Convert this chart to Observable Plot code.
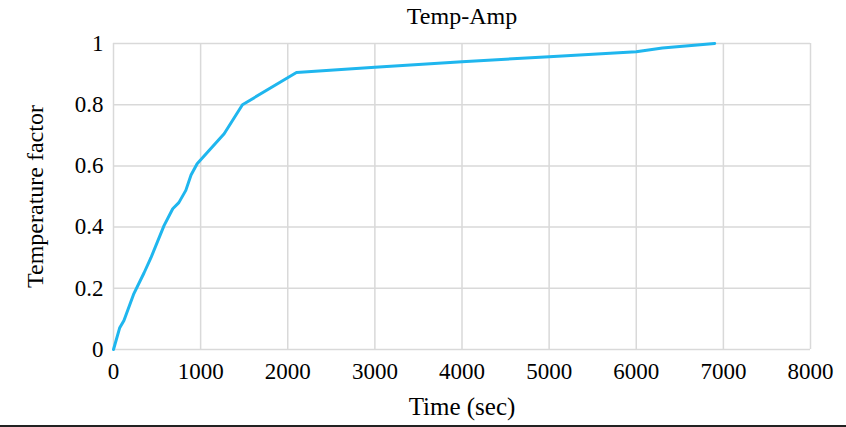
<!DOCTYPE html>
<html>
<head>
<meta charset="utf-8">
<script src="https://cdn.jsdelivr.net/npm/d3@7"></script>
<script src="https://cdn.jsdelivr.net/npm/@observablehq/plot@0.6"></script>
<style>
  html, body { margin: 0; padding: 0; background: #fff; }
  #chart { width: 846px; }
  #rule { width: 846px; height: 0; border-top: 2px solid #222; }
</style>
</head>
<body>
<div id="chart"></div>
<div id="rule"></div>
<script>
const chartTitle = "Temp-Amp";
const xLabel = "Time (sec)";
const yLabel = "Temperature factor";
const timeSec = [0, 70, 120, 230, 350, 430, 580, 680, 750, 830, 890, 960, 1270, 1480, 2100, 3000, 4000, 5000, 6000, 6300, 6900];
const tempFactor = [0, 0.07, 0.095, 0.18, 0.25, 0.30, 0.405, 0.46, 0.48, 0.52, 0.57, 0.607, 0.705, 0.80, 0.905, 0.922, 0.94, 0.957, 0.973, 0.985, 1.0];
const xTicks = [0, 1000, 2000, 3000, 4000, 5000, 6000, 7000, 8000];
const yTicks = [0, 0.2, 0.4, 0.6, 0.8, 1];

const data = timeSec.map((t, i) => ({t, v: tempFactor[i]}));
const font = "'Liberation Serif', 'Times New Roman', serif";
const fmt = d => String(d);

const plot = Plot.plot({
  width: 846,
  height: 425,
  marginLeft: 113,
  marginRight: 36,
  marginTop: 43,
  marginBottom: 76,
  style: {fontFamily: font, fontSize: "23px", color: "#000", background: "#fff"},
  x: {domain: [0, 8000], label: null},
  y: {domain: [0, 1], label: null},
  marks: [
    Plot.gridX(xTicks, {stroke: "#d9d9d9", strokeOpacity: 1, strokeWidth: 1.5}),
    Plot.gridY(yTicks, {stroke: "#d9d9d9", strokeOpacity: 1, strokeWidth: 1.5}),
    Plot.axisX({ticks: xTicks, tickFormat: fmt, tickSize: 0, tickPadding: 13, fontSize: 23, label: null}),
    Plot.axisY({ticks: yTicks, tickFormat: fmt, tickSize: 0, tickPadding: 10, fontSize: 23, label: null}),
    Plot.line(data, {x: "t", y: "v", stroke: "#1fb6ee", strokeWidth: 3, curve: "linear"}),
    Plot.text([chartTitle], {frameAnchor: "top", dy: -37, fontSize: 24, fill: "#000"}),
    Plot.text([xLabel], {frameAnchor: "bottom", dy: 65, fontSize: 25, fill: "#000"}),
    Plot.text([yLabel], {frameAnchor: "left", textAnchor: "middle", dx: -78, rotate: -90, fontSize: 24, fill: "#000"})
  ]
});
document.getElementById("chart").appendChild(plot);
</script>
</body>
</html>
